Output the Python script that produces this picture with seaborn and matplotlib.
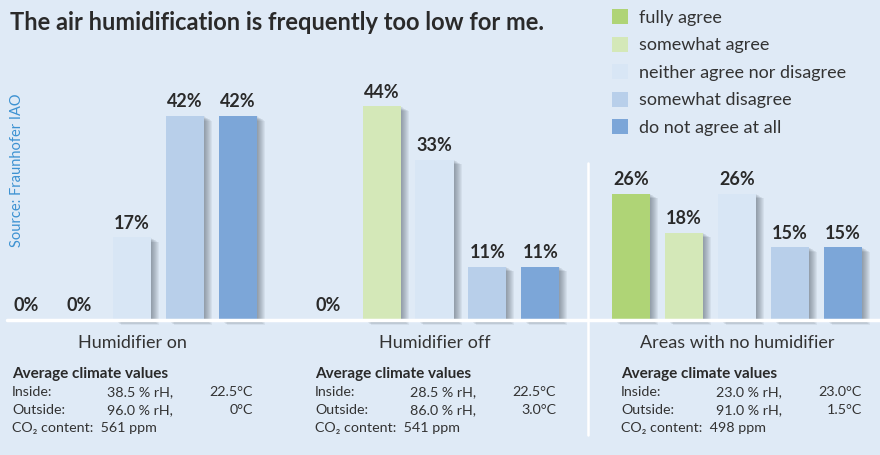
import numpy as np
import pandas as pd
import seaborn as sns
import matplotlib.pyplot as plt
from matplotlib.patches import Rectangle

# chart data
groups = ["Humidifier on", "Humidifier off", "Areas with no humidifier"]
categories = ["fully agree", "somewhat agree", "neither agree nor disagree",
              "somewhat disagree", "do not agree at all"]
values_on = [0, 0, 17, 42, 42]
values_off = [0, 44, 33, 11, 11]
values_none = [26, 18, 26, 15, 15]

inside_rh = ["38.5 % rH,", "28.5 % rH,", "23.0 % rH,"]
inside_temp = ["22.5°C", "22.5°C", "23.0°C"]
outside_rh = ["96.0 % rH,", "86.0 % rH,", "91.0 % rH,"]
outside_temp = ["0°C", "3.0°C", "1.5°C"]
co2_ppm = ["561 ppm", "541 ppm", "498 ppm"]

colors = ["#afd476", "#d4e8b8", "#d8e6f5", "#b8cfea", "#7ca6d8"]
bg = "#dfeaf6"
dark = "#2a2a2a"

rows = []
for g, vals in zip(groups, [values_on, values_off, values_none]):
    for c, v in zip(categories, vals):
        rows.append({"group": g, "answer": c, "value": v})
df = pd.DataFrame(rows)

sns.set_theme(style="white")
plt.rcParams['font.family'] = ['Lato', 'DejaVu Sans']

W, H = 880, 455
fig = plt.figure(figsize=(W / 100, H / 100), dpi=100, facecolor=bg)
ax = fig.add_axes([0, 0, 1, 1])
ax.set_facecolor(bg)

sns.barplot(data=df, x="group", y="value", hue="answer", order=groups,
            hue_order=categories, palette=colors, width=0.875, gap=0.28,
            saturation=1, ax=ax, zorder=3, edgecolor="none", linewidth=0)

# map pixels to data: group centre 0 at px 132, 302.5 px per group; baseline at px 320, 4.86 px per %
px_x = 1 / 302.5
px_y = 1 / 4.86
ax.set_xlim(-132 * px_x, (W - 132) * px_x)
ax.set_ylim(-(H - 320) * px_y, 320 * px_y)
ax.axis("off")

# soft drop shadows to the right of the bars
for patch in list(ax.patches):
    x0, y0 = patch.get_xy()
    w, h = patch.get_width(), patch.get_height()
    if h <= 0:
        continue
    for k in range(1, 9):
        ax.add_patch(Rectangle((x0 + k * px_x, y0 - k * 0.6 * px_y), w, h,
                               facecolor="#3e4855", alpha=0.07, edgecolor="none", zorder=2))

# percentage labels
for cont in ax.containers:
    labs = [f"{int(v)}%" for v in cont.datavalues]
    ax.bar_label(cont, labels=labs, padding=4, fontsize=13, fontweight="bold", color=dark)

# baseline and divider
ax.axhline(0, xmin=7 / W, xmax=1, color="white", lw=2.5, zorder=4)
fig.add_artist(plt.Line2D([588 / W, 588 / W], [1 - 435 / H, 1 - 163 / H],
                          color="white", lw=1.8))

# legend
handles, labels = ax.get_legend_handles_labels()
ax.legend(handles, labels, loc="upper left", bbox_to_anchor=(612 / W, 1 - 9 / H),
          bbox_transform=fig.transFigure, frameon=False, fontsize=13,
          borderaxespad=0, borderpad=0,
          handlelength=0.9, handleheight=0.9, handletextpad=0.6,
          labelspacing=0.6, labelcolor="#333333")

def fx(px):
    return px / W

def fy(py):
    return 1 - py / H

fig.text(fx(10), fy(22), "The air humidification is frequently too low for me.",
         fontsize=17, fontweight="bold", color=dark, va="center", ha="left")
fig.text(fx(17), fy(170), "Source: Fraunhofer IAO", rotation=90, fontsize=10.5,
         color="#3d92d2", va="center", ha="center")

# group captions and climate values
group_centres = [132, 434.5, 737]
text_left = [12, 315, 621]
for i, g in enumerate(groups):
    fig.text(fx(group_centres[i]), fy(343), g, fontsize=13, color="#333333",
             ha="center", va="center")
    x = text_left[i]
    fig.text(fx(x), fy(374), "Average climate values", fontsize=11, fontweight="bold",
             color=dark, va="center")
    fig.text(fx(x), fy(392), "Inside:", fontsize=10.3, color="#333333", va="center")
    fig.text(fx(x + 95), fy(392), inside_rh[i], fontsize=10.3, color="#333333", va="center")
    fig.text(fx(x + 241), fy(392), inside_temp[i], fontsize=10.3, color="#333333",
             va="center", ha="right")
    fig.text(fx(x), fy(410), "Outside:", fontsize=10.3, color="#333333", va="center")
    fig.text(fx(x + 95), fy(410), outside_rh[i], fontsize=10.3, color="#333333", va="center")
    fig.text(fx(x + 241), fy(410), outside_temp[i], fontsize=10.3, color="#333333",
             va="center", ha="right")
    fig.text(fx(x), fy(428), "CO\u2082 content:  " + co2_ppm[i], fontsize=10.3,
             color="#333333", va="center")

fig.savefig("out.png", dpi=100, facecolor=bg)
